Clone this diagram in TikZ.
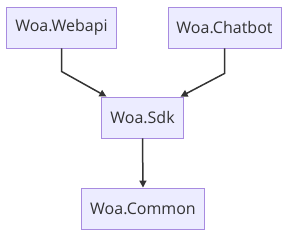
\documentclass[tikz,border=0pt]{standalone}
\usepackage{fontspec}
\setmainfont{Open Sans}
\usepackage{xcolor}
\usetikzlibrary{arrows.meta,positioning,calc}

\definecolor{boxfill}{HTML}{ECECFF}
\definecolor{boxline}{HTML}{A88BE0}
\definecolor{edgecol}{HTML}{333333}

\begin{document}
\begin{tikzpicture}[x=1pt, y=1pt, font=\fontsize{16}{19}\selectfont, every node/.style={inner sep=2pt}]
        \tikzset{
            pkg/.style={draw=boxline, fill=boxfill, line width=0.9pt, text=edgecol, inner xsep=8.5pt, minimum height=41pt},
            arr/.style={-{Triangle[length=7pt,width=7pt]}, draw=edgecol, line width=1.5pt}
        }
        \useasboundingbox (0,0) rectangle (288,-236);

        % Package nodes
        \node[pkg] (webapi) at (61.5,-27.5) {Woa.Webapi};
        \node[pkg] (chatbot) at (224.5,-27.5) {Woa.Chatbot};
        \node[pkg] (sdk) at (142.5,-117.5) {Woa.Sdk};
        \node[pkg] (common) at (143,-208.5) {Woa.Common};

        % Bend points above the sdk
        \coordinate (webdrop) at ($(webapi.south)+(0,-23)$);
        \coordinate (chatdrop) at ($(chatbot.south)+(0,-25)$);
        \coordinate (sdkleft) at ($(sdk.north west)+(5,0)$);
        \coordinate (sdkright) at ($(sdk.north east)+(-3,0)$);

        \draw[arr] (webapi.south) -- (webdrop) -- (sdkleft);
        \draw[arr] (chatbot.south) -- (chatdrop) -- (sdkright);
        \draw[arr] (sdk.south) -- (common.north);
    \end{tikzpicture}
\end{document}
